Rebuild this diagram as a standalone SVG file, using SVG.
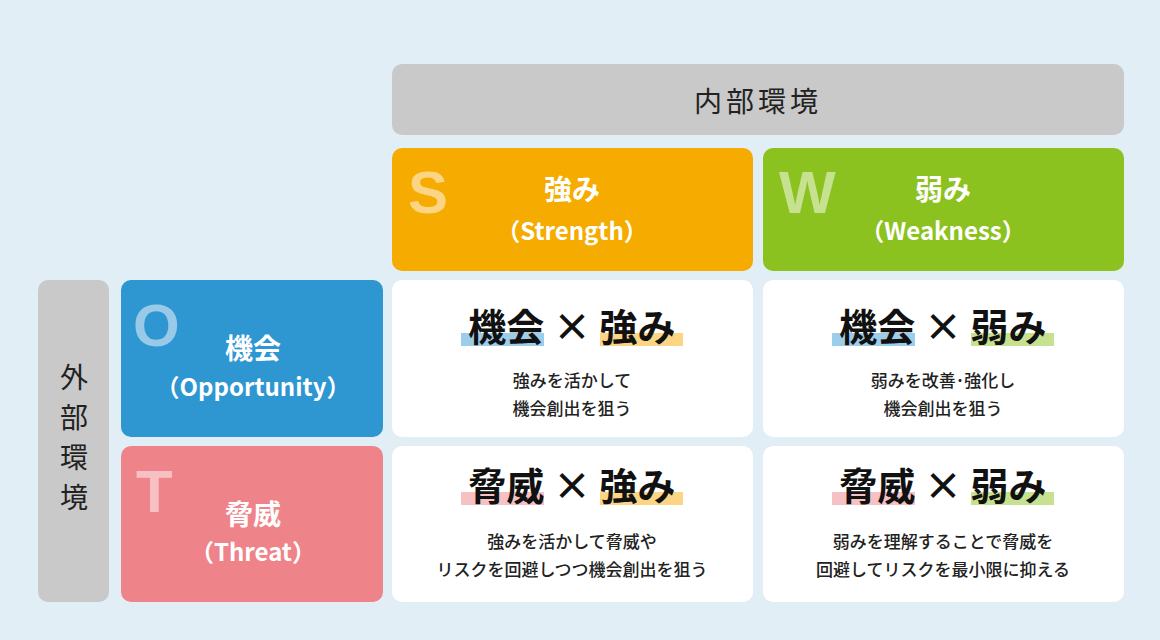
<svg xmlns="http://www.w3.org/2000/svg" width="1160" height="640" viewBox="0 0 1160 640">
<style>
.j{font-family:"Noto Sans CJK JP","Noto Sans",sans-serif}
.w{fill:#fff;font-weight:bold}
.big{font-family:"Liberation Sans",Arial,sans-serif;font-weight:bold;font-size:60px}
.t{font-size:38px;font-weight:bold;fill:#111}
.s{font-size:17px;fill:#222;font-weight:500}
.cell{fill:#fff}
</style>
<rect width="1160" height="640" fill="#e1eef6"/>
<g id="internal"><rect x="392" y="64" width="732" height="71" rx="10" fill="#c9c9c9"/><text x="758" y="112" text-anchor="middle" class="j" font-size="28" fill="#222" letter-spacing="4">内部環境</text></g>
<g id="external"><rect x="38" y="280" width="71" height="322" rx="10" fill="#c9c9c9"/><text class="j" font-size="28" fill="#222" text-anchor="middle"><tspan x="74" y="388">外</tspan><tspan x="74" y="428">部</tspan><tspan x="74" y="468">環</tspan><tspan x="74" y="508">境</tspan></text></g>
<g id="S"><rect x="392" y="148" width="361" height="123" rx="10" fill="#f5ab00"/><text x="408" y="213" class="big" fill="#fbd583">S</text><text x="572" y="200" text-anchor="middle" class="j w" font-size="28">強み</text><text x="572" y="240" text-anchor="middle" class="j w" font-size="24">（Strength）</text></g>
<g id="W"><rect x="763" y="148" width="361" height="123" rx="10" fill="#8cc220"/><text x="779" y="213" class="big" fill="#c6e190">W</text><text x="943" y="200" text-anchor="middle" class="j w" font-size="28">弱み</text><text x="943" y="240" text-anchor="middle" class="j w" font-size="24">（Weakness）</text></g>
<g id="O"><rect x="121" y="280" width="262" height="157" rx="10" fill="#2e96d1"/><text x="133" y="346" class="big" fill="#98c9e8">O</text><text x="253" y="359" text-anchor="middle" class="j w" font-size="28">機会</text><text x="253" y="396" text-anchor="middle" class="j w" font-size="24">（Opportunity）</text></g>
<g id="T"><rect x="121" y="446" width="262" height="156" rx="10" fill="#ef838a"/><text x="136" y="512" class="big" fill="#f7c1c4">T</text><text x="253" y="525" text-anchor="middle" class="j w" font-size="28">脅威</text><text x="253" y="561" text-anchor="middle" class="j w" font-size="24">（Threat）</text></g>
<g id="OS"><rect class="cell" x="392" y="280" width="361" height="157" rx="10"/><rect x="461" y="333" width="83" height="13" fill="#9ccdea"/><rect x="600" y="333" width="83" height="13" fill="#fbd583"/><text x="572" y="341" text-anchor="middle" class="j t">機会 × 強み</text><text x="572" y="387" text-anchor="middle" class="j s">強みを活かして</text><text x="572" y="415" text-anchor="middle" class="j s">機会創出を狙う</text></g>
<g id="OW"><rect class="cell" x="763" y="280" width="361" height="157" rx="10"/><rect x="832" y="333" width="83" height="13" fill="#9ccdea"/><rect x="971" y="333" width="83" height="13" fill="#c6e190"/><text x="943" y="341" text-anchor="middle" class="j t">機会 × 弱み</text><text x="943" y="387" text-anchor="middle" class="j s">弱みを改善･強化し</text><text x="943" y="415" text-anchor="middle" class="j s">機会創出を狙う</text></g>
<g id="TS"><rect class="cell" x="392" y="446" width="361" height="156" rx="10"/><rect x="461" y="492" width="83" height="13" fill="#f7c1c4"/><rect x="600" y="492" width="83" height="13" fill="#fbd583"/><text x="572" y="500" text-anchor="middle" class="j t">脅威 × 強み</text><text x="572" y="548" text-anchor="middle" class="j s">強みを活かして脅威や</text><text x="572" y="576" text-anchor="middle" class="j s">リスクを回避しつつ機会創出を狙う</text></g>
<g id="TW"><rect class="cell" x="763" y="446" width="361" height="156" rx="10"/><rect x="832" y="492" width="83" height="13" fill="#f7c1c4"/><rect x="971" y="492" width="83" height="13" fill="#c6e190"/><text x="943" y="500" text-anchor="middle" class="j t">脅威 × 弱み</text><text x="943" y="548" text-anchor="middle" class="j s">弱みを理解することで脅威を</text><text x="943" y="576" text-anchor="middle" class="j s">回避してリスクを最小限に抑える</text></g>
<g id="connectors"/>
</svg>
